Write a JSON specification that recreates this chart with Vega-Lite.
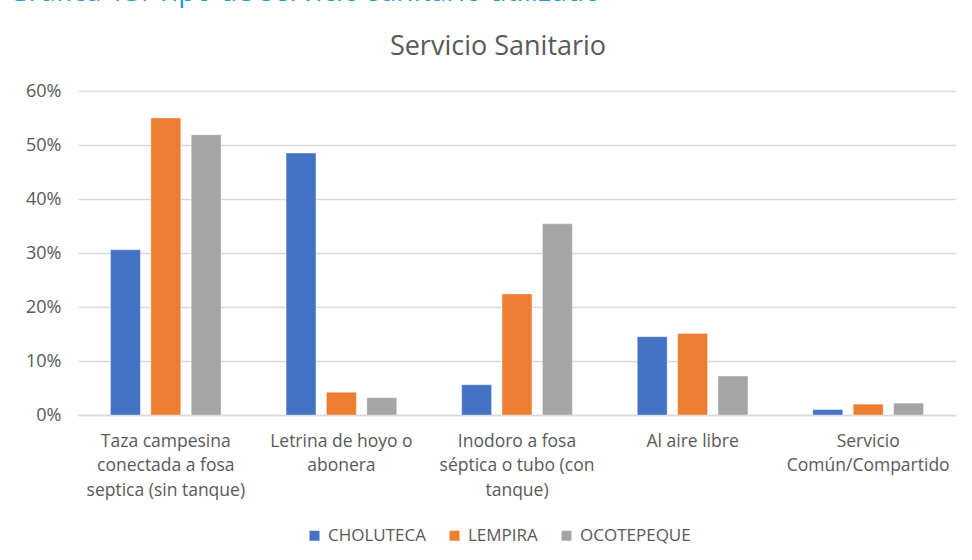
{
  "$schema": "https://vega.github.io/schema/vega-lite/v6.json",
  "padding": {"top": -23, "left": 8, "right": 0, "bottom": 12},
  "background": "white",
  "title": {"text": "Gráfica 13. Tipo de servicio sanitario utilizado", "anchor": "start", "fontSize": 28.2, "font": "Open Sans", "fontWeight": "normal", "color": "#1B9BD7", "offset": 26},
  "data": {"values": [
    {"categoria": "Taza campesina|conectada a fosa|septica (sin tanque)", "departamento": "CHOLUTECA", "valor": 0.306},
    {"categoria": "Taza campesina|conectada a fosa|septica (sin tanque)", "departamento": "LEMPIRA", "valor": 0.550},
    {"categoria": "Taza campesina|conectada a fosa|septica (sin tanque)", "departamento": "OCOTEPEQUE", "valor": 0.519},
    {"categoria": "Letrina de hoyo o|abonera", "departamento": "CHOLUTECA", "valor": 0.485},
    {"categoria": "Letrina de hoyo o|abonera", "departamento": "LEMPIRA", "valor": 0.042},
    {"categoria": "Letrina de hoyo o|abonera", "departamento": "OCOTEPEQUE", "valor": 0.032},
    {"categoria": "Inodoro a fosa|séptica o tubo (con|tanque)", "departamento": "CHOLUTECA", "valor": 0.056},
    {"categoria": "Inodoro a fosa|séptica o tubo (con|tanque)", "departamento": "LEMPIRA", "valor": 0.224},
    {"categoria": "Inodoro a fosa|séptica o tubo (con|tanque)", "departamento": "OCOTEPEQUE", "valor": 0.354},
    {"categoria": "Al aire libre", "departamento": "CHOLUTECA", "valor": 0.145},
    {"categoria": "Al aire libre", "departamento": "LEMPIRA", "valor": 0.151},
    {"categoria": "Al aire libre", "departamento": "OCOTEPEQUE", "valor": 0.072},
    {"categoria": "Servicio|Común/Compartido", "departamento": "CHOLUTECA", "valor": 0.010},
    {"categoria": "Servicio|Común/Compartido", "departamento": "LEMPIRA", "valor": 0.020},
    {"categoria": "Servicio|Común/Compartido", "departamento": "OCOTEPEQUE", "valor": 0.022}
  ]},
  "vconcat": [
    {
      "width": 878,
      "height": 324,
      "title": {"text": "Servicio Sanitario", "fontSize": 27, "font": "Open Sans", "fontWeight": "normal", "color": "#595959", "anchor": "middle", "offset": 21, "dx": -19},
      "mark": {"type": "bar", "stroke": "white", "strokeOpacity": 0.5, "strokeWidth": 0.7},
      "encoding": {
        "x": {"field": "categoria", "type": "nominal", "sort": null, "title": null,
          "scale": {"paddingInner": 0.37, "paddingOuter": 0.185},
          "axis": {"labelAngle": 0, "labelExpr": "split(datum.label, '|')", "labelFontSize": 17.5, "labelFont": "Open Sans", "labelColor": "#595959", "labelLineHeight": 24.5, "labelPadding": 17, "ticks": false, "domainColor": "#D9D9D9", "domainWidth": 1.3, "labelLimit": 220}},
        "xOffset": {"field": "departamento", "type": "nominal", "scale": {"paddingInner": 0.26}},
        "y": {"field": "valor", "type": "quantitative", "title": null,
          "scale": {"domain": [0, 0.6], "nice": false},
          "axis": {"format": ".0%", "values": [0, 0.1, 0.2, 0.3, 0.4, 0.5, 0.6], "labelOverlap": false, "domain": false, "ticks": false, "labelFontSize": 18, "labelFont": "Open Sans", "labelColor": "#595959", "labelPadding": 17, "gridColor": "#D9D9D9", "gridWidth": 1.3, "minExtent": 70, "maxExtent": 70}},
        "color": {"field": "departamento", "type": "nominal",
          "scale": {"domain": ["CHOLUTECA", "LEMPIRA", "OCOTEPEQUE"], "range": ["#4472C4", "#ED7D31", "#A5A5A5"]},
          "legend": {"orient": "none", "legendX": 228, "legendY": 436, "direction": "horizontal", "title": null, "symbolType": "square", "symbolSize": 100, "symbolStrokeWidth": 0, "labelFontSize": 17, "labelFont": "Open Sans", "labelColor": "#595959", "labelOffset": 5, "columnPadding": 20}}
      }
    }
  ],
  "config": {"view": {"stroke": null}}
}
